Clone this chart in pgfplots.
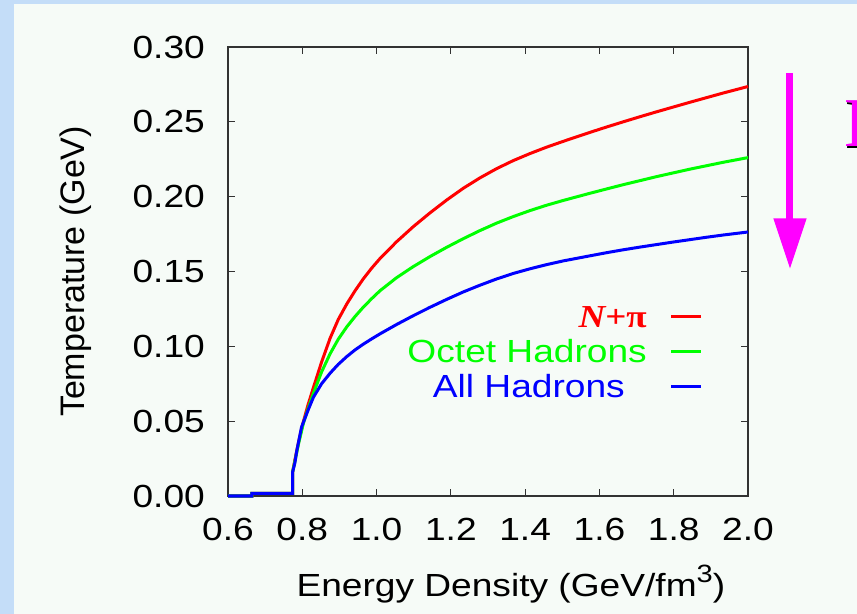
\documentclass[border=0pt]{standalone}
\usepackage{fontspec}
\setmainfont{Liberation Sans}[FakeStretch=1.16]
\newfontfamily\ylabfont{Liberation Sans}
\newfontfamily\serifst{Liberation Serif}[FakeStretch=1.16]
\newfontfamily\serifplain{Liberation Serif}
\usepackage{pgfplots}
\pgfplotsset{compat=1.18}
\usepackage{pgfplotstable}
\definecolor{bgblue}{RGB}{196,221,248}
\definecolor{panel}{RGB}{246,251,247}
\definecolor{axgray}{RGB}{50,50,50}
\definecolor{cred}{RGB}{255,0,0}
\definecolor{cgreen}{RGB}{0,255,0}
\definecolor{cblue}{RGB}{0,0,255}
\definecolor{cmag}{RGB}{255,0,255}
\newcommand\tickfont{\fontsize{32bp}{36bp}\selectfont}
\newcommand\ylfont{\ylabfont\fontsize{34bp}{38bp}\selectfont}

\pgfplotstableread{
e T
0.600 0
0.664 0
0.664 0.0018
0.774 0.0018
0.774 0.016
0.780 0.024
0.790 0.036
0.800 0.047
0.815 0.0605
0.830 0.0725
0.852 0.0895
0.875 0.1055
0.897 0.1180
0.920 0.1284
0.942 0.1371
0.964 0.1450
0.987 0.1523
1.009 0.1586
1.054 0.1699
1.099 0.1800
1.144 0.1892
1.189 0.1978
1.234 0.2057
1.278 0.2125
1.323 0.2187
1.368 0.2241
1.413 0.2288
1.458 0.2331
1.503 0.2370
1.575 0.2430
1.620 0.2466
1.664 0.2500
1.709 0.2534
1.754 0.2567
1.799 0.2599
1.844 0.2631
1.889 0.2662
1.934 0.2693
2.000 0.2736
}\redtab

\pgfplotstableread{
e T
0.600 0
0.664 0
0.664 0.0018
0.774 0.0018
0.774 0.016
0.780 0.023
0.790 0.035
0.803 0.0486
0.815 0.058
0.830 0.0686
0.852 0.0829
0.875 0.0951
0.897 0.1048
0.920 0.1131
0.942 0.1199
0.964 0.1261
0.987 0.1319
1.009 0.1371
1.054 0.1459
1.099 0.1533
1.144 0.1600
1.189 0.1662
1.234 0.1720
1.278 0.1773
1.323 0.1823
1.368 0.1867
1.413 0.1907
1.458 0.1943
1.503 0.1975
1.575 0.2023
1.620 0.2052
1.664 0.2080
1.709 0.2107
1.754 0.2134
1.799 0.2159
1.844 0.2184
1.889 0.2207
1.934 0.2230
2.000 0.2261
}\greentab

\pgfplotstableread{
e T
0.600 0
0.664 0
0.664 0.0018
0.774 0.0018
0.774 0.016
0.780 0.022
0.785 0.030
0.798 0.046
0.815 0.057
0.830 0.0660
0.852 0.0750
0.875 0.0821
0.897 0.0880
0.920 0.0932
0.942 0.0976
0.964 0.1014
0.987 0.1050
1.009 0.1083
1.054 0.1146
1.099 0.1205
1.144 0.1261
1.189 0.1314
1.234 0.1364
1.278 0.1408
1.323 0.1450
1.368 0.1487
1.413 0.1518
1.458 0.1546
1.503 0.1571
1.575 0.1605
1.620 0.1626
1.664 0.1645
1.709 0.1663
1.754 0.1680
1.799 0.1697
1.844 0.1713
1.889 0.1729
1.934 0.1744
2.000 0.1764
}\bluetab

\begin{document}
\begin{tikzpicture}
\useasboundingbox (0,0) rectangle (857bp,614bp);
\begin{scope}
\clip (0,0) rectangle (857bp,614bp);
\fill[bgblue] (0,0) rectangle (857bp,614bp);
\fill[panel] (14bp,0) rectangle (857bp,610bp);
\begin{axis}[
  at={(228bp,118bp)}, anchor=south west,
  scale only axis, width=520bp, height=449bp,
  xmin=0.6, xmax=2.0, ymin=0, ymax=0.30,
  clip=false,
  scaled x ticks=false, scaled y ticks=false,
  xtick={0.6,0.8,1.0,1.2,1.4,1.6,1.8,2.0},
  ytick={0,0.05,0.10,0.15,0.20,0.25,0.30},
  /pgf/number format/assume math mode=true,
  x tick label style={/pgf/number format/fixed, /pgf/number format/fixed zerofill, /pgf/number format/precision=1},
  y tick label style={/pgf/number format/fixed, /pgf/number format/fixed zerofill, /pgf/number format/precision=2},
  xticklabel style={anchor=north, inner sep=0pt, yshift=-22bp, font=\tickfont},
  yticklabel style={anchor=east, inner sep=0pt, xshift=-23bp, font=\tickfont},
  major tick length=7bp,
  tick style={line width=1.2bp, draw=axgray},
  axis line style={line width=1.4bp, draw=axgray},
  xlabel={Energy Density (GeV/fm\raisebox{14bp}{\fontsize{25bp}{25bp}\selectfont 3})},
  xlabel style={at={(axis description cs:0.544,-0.2243)}, anchor=base, inner sep=0pt, font=\tickfont},
  ylabel={Temperature (GeV)},
  ylabel style={at={(axis description cs:-0.2923,0.5)}, anchor=center, inner sep=0pt, font=\ylfont},
  legend style={at={(axis description cs:0.9135,0.4399)}, anchor=north east, draw=none, fill=none,
    inner sep=0pt, column sep=23bp, row sep=0pt, font=\tickfont,
    nodes={inner sep=0pt, text height=29.3bp, text depth=5.7bp}},
  legend plot pos=right,
  legend cell align=right,
  legend image code/.code={\draw[#1] (0bp,0bp) -- (30bp,0bp);},
]
\addplot[cred, line width=3bp] table[x=e, y=T] {\redtab};
\addlegendentry{\textcolor{cred}{{\serifst\bfseries\itshape N}{\serifst\bfseries +π}}}
\addplot[cgreen, line width=3bp] table[x=e, y=T] {\greentab};
\addlegendentry{\textcolor{cgreen}{Octet Hadrons}}
\addplot[cblue, line width=3bp] table[x=e, y=T] {\bluetab};
\addlegendentry{\textcolor{cblue}{All Hadrons\hspace*{22bp}}}
\end{axis}
\fill[cmag] (786bp,541.3bp) rectangle (793.4bp,395bp);
\fill[cmag] (773.3bp,395.7bp) -- (806.7bp,395.7bp) -- (790bp,345.7bp) -- cycle;
\node[anchor=base west, inner sep=0pt, text=black] at (845.5bp,465.5bp) {\serifplain\fontsize{70bp}{70bp}\selectfont E};
\node[anchor=base west, inner sep=0pt, text=cmag] at (844bp,467bp) {\serifplain\fontsize{70bp}{70bp}\selectfont E};
\end{scope}
\end{tikzpicture}
\end{document}
